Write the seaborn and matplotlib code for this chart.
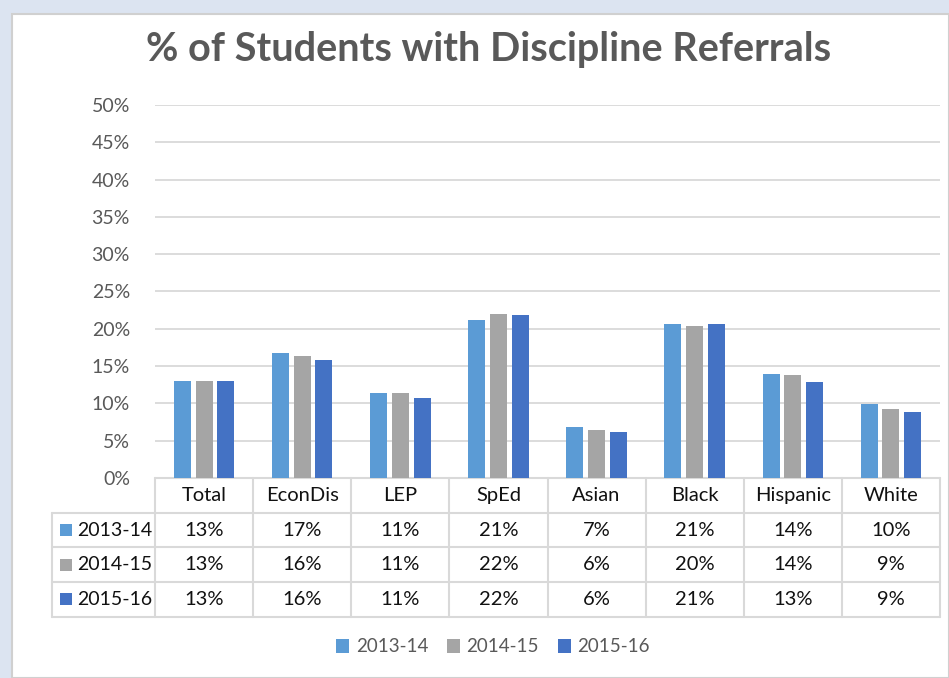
import matplotlib
matplotlib.use("Agg")
import matplotlib.pyplot as plt
import matplotlib.patches as mpatches
from matplotlib.lines import Line2D
import seaborn as sns
import pandas as pd

categories = ["Total", "EconDis", "LEP", "SpEd", "Asian", "Black", "Hispanic", "White"]
years = ["2013-14", "2014-15", "2015-16"]
v_2013_14 = [0.130, 0.168, 0.114, 0.212, 0.069, 0.207, 0.140, 0.099]
v_2014_15 = [0.130, 0.164, 0.114, 0.220, 0.064, 0.204, 0.138, 0.092]
v_2015_16 = [0.130, 0.158, 0.107, 0.219, 0.062, 0.206, 0.129, 0.088]
colors = ["#5B9BD5", "#A5A5A5", "#4472C4"]
yticks = [0, 0.05, 0.10, 0.15, 0.20, 0.25, 0.30, 0.35, 0.40, 0.45, 0.50]
title = "% of Students with Discipline Referrals"

series = [v_2013_14, v_2014_15, v_2015_16]
df = pd.DataFrame([
    {"cat": c, "year": y, "val": v}
    for y, vals in zip(years, series)
    for c, v in zip(categories, vals)
])

sns.set_theme(style="white")
FONT = ["Lato", "DejaVu Sans"]
plt.rcParams["font.family"] = FONT

W, H = 949, 678
fig = plt.figure(figsize=(W / 100, H / 100), dpi=100)
fig.patch.set_facecolor("#DCE4F1")

# background panel
bg = fig.add_axes([0, 0, 1, 1], zorder=-5)
bg.set_xlim(0, W)
bg.set_ylim(H, 0)
bg.axis("off")
bg.add_patch(mpatches.Rectangle((12, 14), W - 12, H - 14, facecolor="white",
                                edgecolor="#D0D0D0", linewidth=1.5))

# bar axes
L, R, T, B = 155, 940, 105, 478
ax = fig.add_axes([L / W, 1 - B / H, (R - L) / W, (B - T) / H])
ax.set_facecolor("none")
sns.barplot(data=df, x="cat", y="val", hue="year", palette=colors, saturation=1,
            width=0.665, gap=0.22, ax=ax, legend=False, zorder=3,
            edgecolor="none")
ax.set_xlim(-0.5, len(categories) - 0.5)
ax.set_ylim(0, 0.5)
ax.set_yticks(yticks)
ax.set_yticklabels([f"{round(t*100)}%" for t in yticks], color="#595959", fontsize=14)
ax.tick_params(axis="y", length=0, pad=18)
ax.set_xticks([])
ax.set_xlabel("")
ax.set_ylabel("")
for s in ax.spines.values():
    s.set_visible(False)
ax.yaxis.grid(True, color="#D9D9D9", linewidth=1.3, zorder=0)
ax.set_axisbelow(True)

# data table below
px_per_unit = (R - L) / len(categories)
ax_h = B - T
row_h = 34.7 / ax_h
tr = ax.get_xaxis_transform()
x_left = -0.5 - (L - 52) / px_per_unit
x_right = len(categories) - 0.5
gc = "#D9D9D9"
lw = 1.5
ax.add_line(Line2D([-0.5, x_right], [0, 0], transform=tr, color=gc, lw=lw, clip_on=False))
for i in range(1, 5):
    ax.add_line(Line2D([x_left, x_right], [-i * row_h] * 2, transform=tr, color=gc, lw=lw, clip_on=False))
for j in range(len(categories) + 1):
    xv = -0.5 + j
    ax.add_line(Line2D([xv, xv], [0, -4 * row_h], transform=tr, color=gc, lw=lw, clip_on=False))
ax.add_line(Line2D([x_left, x_left], [-row_h, -4 * row_h], transform=tr, color=gc, lw=lw, clip_on=False))

for j, c in enumerate(categories):
    ax.text(j, -0.5 * row_h, c, transform=tr, ha="center", va="center",
            fontsize=14.5, color="#111111")
for i, (y, vals, col) in enumerate(zip(years, series, colors)):
    yc = -(i + 1.5) * row_h
    for j, v in enumerate(vals):
        ax.text(j, yc, f"{round(v*100)}%", transform=tr, ha="center", va="center",
                fontsize=14.5, color="#111111")
    key_x = x_left + 8 / px_per_unit
    ax.add_patch(mpatches.Rectangle((key_x, yc - 6 / ax_h), 12 / px_per_unit, 12 / ax_h,
                                    transform=tr, facecolor=col, edgecolor="none", clip_on=False))
    ax.text(x_left + 25 / px_per_unit, yc, y, transform=tr, ha="left", va="center",
            fontsize=14, color="#111111")

# title
fig.text(489 / W, 1 - 50 / H, title, ha="center", va="center", fontsize=28.5,
         fontweight="bold", color="#595959")

# legend
handles = [mpatches.Patch(facecolor=c, edgecolor="none", label=y) for y, c in zip(years, colors)]
leg = fig.legend(handles=handles, loc="center", bbox_to_anchor=(493 / W, 1 - 647 / H),
                 ncol=3, frameon=False, fontsize=13.5, handlelength=0.7, handleheight=0.7,
                 handletextpad=0.35, columnspacing=1.0)
for t in leg.get_texts():
    t.set_color("#595959")

fig.savefig("out.png", dpi=100, facecolor=fig.get_facecolor())
